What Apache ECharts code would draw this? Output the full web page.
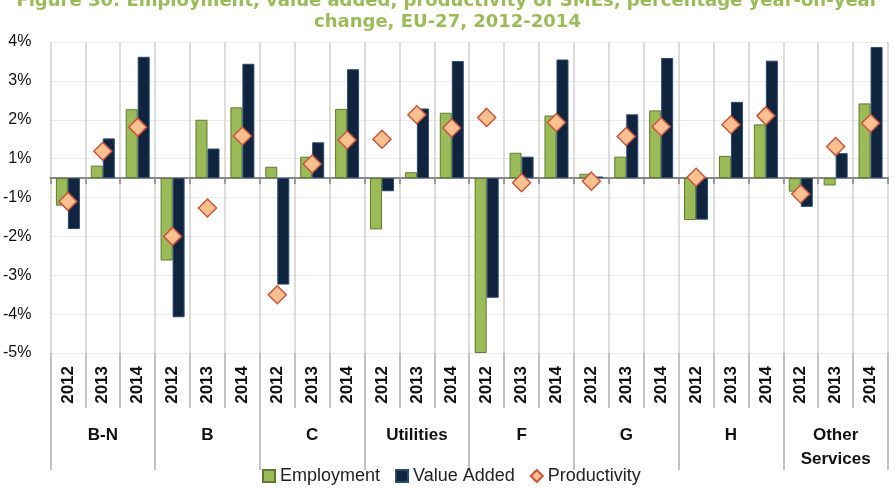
<!DOCTYPE html>
<html><head><meta charset="utf-8">
<script src="https://cdn.jsdelivr.net/npm/echarts@6/dist/echarts.min.js"></script>
<style>html,body{margin:0;padding:0;background:#fff}#c{width:895px;height:488px}</style>
</head><body><div id="c"></div>
<script>
const sectors = ['B-N', 'B', 'C', 'Utilities', 'F', 'G', 'H', 'Other\nServices'];
const years = ['2012', '2013', '2014'];
const categories = [];
sectors.forEach(() => years.forEach(y => categories.push(y)));

const employment   = [-0.71, 0.32, 1.77, -2.12, 1.50, 1.82, 0.29, 0.55, 1.78, -1.32, 0.15, 1.68, -4.5, 0.65, 1.61, 0.11, 0.55, 1.74, -1.08, 0.57, 1.38, -0.35, -0.19, 1.92];
const valueAdded   = [-1.31, 1.02, 3.12, -3.58, 0.76, 2.94, -2.74, 0.92, 2.80, -0.34, 1.79, 3.01, -3.08, 0.55, 3.05, 0.04, 1.64, 3.09, -1.07, 1.96, 3.02, -0.74, 0.64, 3.37];
const productivity = [-0.60, 0.69, 1.31, -1.50, -0.77, 1.08, -3.00, 0.36, 0.98, 1.00, 1.63, 1.29, 1.56, -0.12, 1.43, -0.08, 1.07, 1.32, 0.02, 1.37, 1.60, -0.41, 0.81, 1.41];

const yMin = -4.5, yMax = 3.5, yStep = 1;

function pct(v) {
  const r = Math.sign(v) * Math.round(Math.abs(v) + 1e-9);
  return r + '%';
}

const chart = echarts.init(document.getElementById('c'), null, {renderer: 'canvas'});
chart.setOption({
  animation: false,
  backgroundColor: '#ffffff',
  title: {
    text: 'Figure 30: Employment, value added, productivity of SMEs, percentage year-on-year\nchange, EU-27, 2012-2014',
    left: 'center', top: -14,
    textStyle: {fontFamily: 'DejaVu Sans', fontWeight: 'bold', fontSize: 18, color: '#9BBB59', lineHeight: 21, align: 'center'}
  },
  legend: {
    left: 262, top: 467, padding: 0,
    itemWidth: 12, itemHeight: 12, itemGap: 15,
    textStyle: {fontFamily: 'Liberation Sans', fontSize: 18, color: '#222'},
    data: [
      {name: 'Employment', icon: 'rect'},
      {name: 'Value Added', icon: 'rect'},
      {name: 'Productivity', icon: 'diamond'}
    ]
  },
  grid: {left: 48, right: 7, top: 42, bottom: 135},
  xAxis: [
    {
      type: 'category', data: categories,
      axisLine: {show: true, onZero: true, lineStyle: {color: '#888888', width: 2}},
      axisTick: {show: true, length: 6, interval: 0, lineStyle: {color: '#888888', width: 1.5}},
      axisLabel: {show: false},
      splitLine: {show: true, interval: 0, lineStyle: {color: '#d0d0d0', width: 1.5}}
    },
    {
      type: 'category', data: categories, position: 'bottom',
      axisLine: {show: false, onZero: false},
      axisTick: {show: true, length: 55, interval: 0, lineStyle: {color: '#b0b0b0', width: 1.5}},
      axisLabel: {show: true, interval: 0, rotate: 90, margin: 13,
        fontFamily: 'Liberation Sans', fontWeight: 'bold', fontSize: 17, color: '#111'},
      splitLine: {show: false}
    },
    {
      type: 'category', data: sectors, position: 'bottom',
      axisLine: {show: false, onZero: false},
      axisTick: {show: true, length: 117, interval: 0, lineStyle: {color: '#b0b0b0', width: 1.5}},
      axisLabel: {show: true, interval: 0, margin: 70, lineHeight: 24,
        fontFamily: 'Liberation Sans', fontWeight: 'bold', fontSize: 17, color: '#111'},
      splitLine: {show: false}
    }
  ],
  yAxis: {
    type: 'value', min: yMin, max: yMax, interval: yStep,
    axisLine: {show: false}, axisTick: {show: false},
    axisLabel: {formatter: pct, margin: 19, fontFamily: 'Liberation Sans', fontSize: 16, color: '#111'},
    splitLine: {show: true, lineStyle: {color: '#ebebeb', width: 1}}
  },
  series: [
    {
      name: 'Employment', type: 'bar', data: employment, barWidth: 12, barGap: '0%',
      itemStyle: {color: '#9BBB59', borderColor: '#5f7a2e', borderWidth: 1}
    },
    {
      name: 'Value Added', type: 'bar', data: valueAdded, barWidth: 12, barGap: '0%',
      itemStyle: {color: '#10243E', borderColor: '#2b4a70', borderWidth: 1}
    },
    {
      name: 'Productivity', type: 'scatter', data: productivity, symbol: 'diamond', symbolSize: 18, z: 5,
      itemStyle: {color: '#FAC090', borderColor: '#C8553D', borderWidth: 1.5, opacity: 1}
    }
  ]
});
</script></body></html>
